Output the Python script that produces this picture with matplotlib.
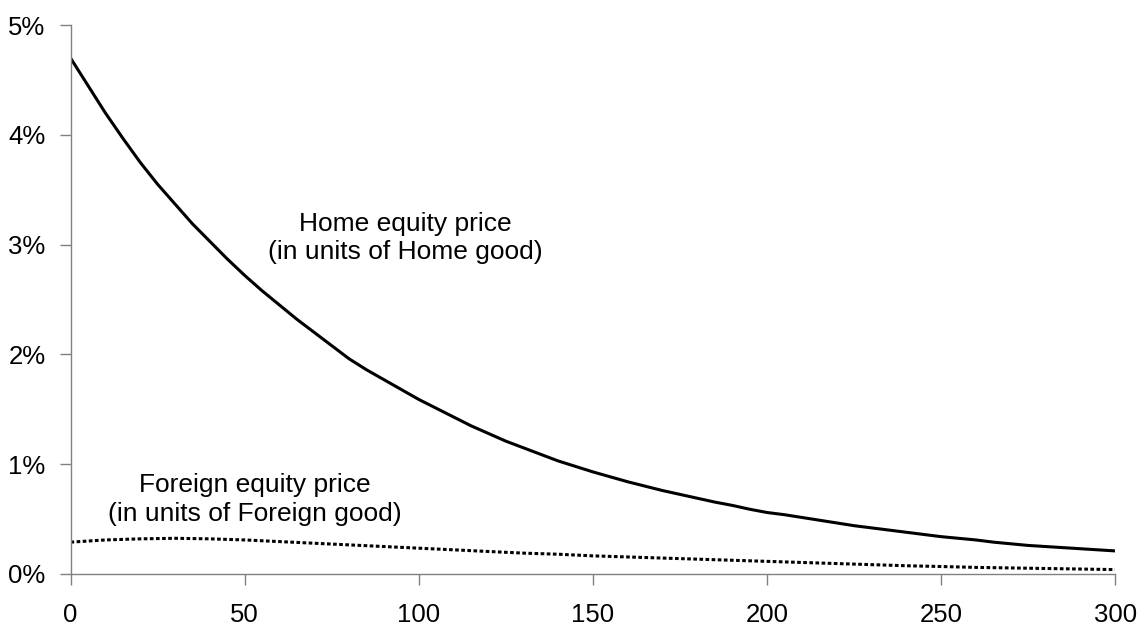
import numpy as np
import matplotlib.pyplot as plt
from matplotlib.ticker import FuncFormatter

# Data (percent)
home_periods = list(range(0, 301, 5))
home_price = [4.70, 4.45, 4.20, 3.97, 3.75, 3.55, 3.37, 3.19, 3.03, 2.87, 2.72,
              2.58, 2.45, 2.32, 2.20, 2.08, 1.96, 1.86, 1.77, 1.68, 1.59,
              1.51, 1.43, 1.35, 1.28, 1.21, 1.15, 1.09, 1.03, 0.98, 0.93,
              0.885, 0.84, 0.80, 0.76, 0.725, 0.69, 0.655, 0.625, 0.59, 0.56,
              0.54, 0.515, 0.49, 0.465, 0.44, 0.42, 0.40, 0.38, 0.36, 0.34,
              0.325, 0.31, 0.29, 0.275, 0.26, 0.25, 0.24, 0.23, 0.22, 0.21]
foreign_periods = list(range(0, 301, 10))
foreign_price = [0.29, 0.31, 0.32, 0.325, 0.32, 0.31, 0.295, 0.28, 0.265, 0.25,
                 0.235, 0.22, 0.205, 0.19, 0.18, 0.165, 0.155, 0.145, 0.135,
                 0.125, 0.115, 0.105, 0.095, 0.085, 0.075, 0.068, 0.06, 0.055,
                 0.05, 0.045, 0.04]
x_ticks = [0, 50, 100, 150, 200, 250, 300]
y_ticks = [0, 1, 2, 3, 4, 5]

plt.rcParams['font.family'] = ['Liberation Sans', 'DejaVu Sans']

fig = plt.figure(figsize=(11.39, 6.26), dpi=100)
ax = fig.add_axes([0.0619, 0.0831, 0.9172, 0.8769])

ax.plot(home_periods, home_price, color='black', lw=2.2, solid_capstyle='butt')
ax.plot(foreign_periods, foreign_price, color='black', lw=2.2, dashes=(1.2, 0.8))

ax.set_xlim(0, 300)
ax.set_ylim(0, 5)
ax.set_xticks(x_ticks)
ax.set_yticks(y_ticks)
ax.yaxis.set_major_formatter(FuncFormatter(lambda v, p: '%d%%' % v))

for s in ['top', 'right']:
    ax.spines[s].set_visible(False)
for s in ['left', 'bottom']:
    ax.spines[s].set_color('#808080')
    ax.spines[s].set_linewidth(1.0)

ax.tick_params(axis='both', direction='out', length=8, width=1.0,
               color='#808080', labelsize=18.5, labelcolor='black')
ax.tick_params(axis='x', pad=13)
ax.tick_params(axis='y', pad=10)

ax.text(96.2, 3.06, 'Home equity price\n(in units of Home good)', ha='center',
        va='center', fontsize=19, linespacing=1.25)
ax.text(52.9, 0.68, 'Foreign equity price\n(in units of Foreign good)', ha='center',
        va='center', fontsize=19, linespacing=1.25)

fig.savefig('out.png', dpi=100)
